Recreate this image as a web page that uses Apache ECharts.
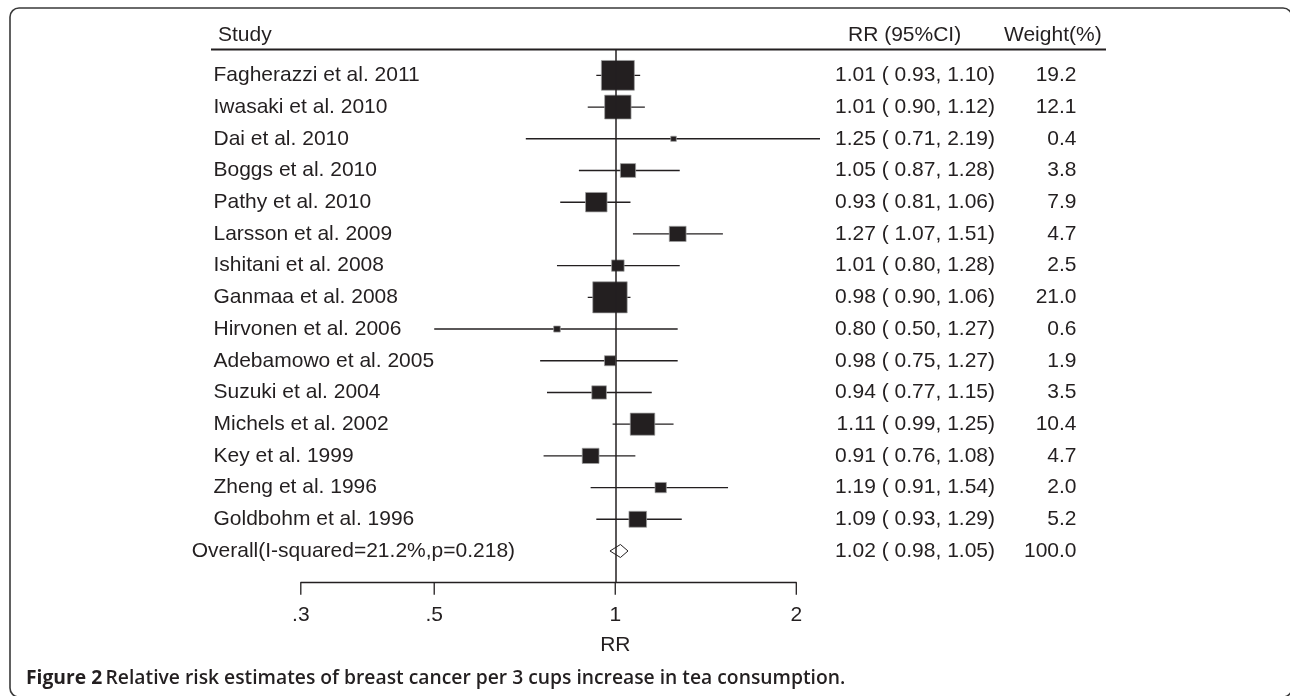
<!DOCTYPE html>
<html><head><meta charset="utf-8">
<script src="https://cdn.jsdelivr.net/npm/echarts@6/dist/echarts.min.js"></script>
<style>html,body{margin:0;padding:0;background:#fff}#chart{width:1290px;height:696px}</style>
</head><body><div id="chart"></div>
<script>
// ---------------- data ----------------
const studies = [
  'Fagherazzi et al. 2011', 'Iwasaki et al. 2010', 'Dai et al. 2010', 'Boggs et al. 2010',
  'Pathy et al. 2010', 'Larsson et al. 2009', 'Ishitani et al. 2008', 'Ganmaa et al. 2008',
  'Hirvonen et al. 2006', 'Adebamowo et al. 2005', 'Suzuki et al. 2004', 'Michels et al. 2002',
  'Key et al. 1999', 'Zheng et al. 1996', 'Goldbohm et al. 1996',
  'Overall(I-squared=21.2%,p=0.218)'
];
const rr     = [1.01, 1.01, 1.25, 1.05, 0.93, 1.27, 1.01, 0.98, 0.80, 0.98, 0.94, 1.11, 0.91, 1.19, 1.09, 1.02];
const lower  = [0.93, 0.90, 0.71, 0.87, 0.81, 1.07, 0.80, 0.90, 0.50, 0.75, 0.77, 0.99, 0.76, 0.91, 0.93, 0.98];
const upper  = [1.10, 1.12, 2.19, 1.28, 1.06, 1.51, 1.28, 1.06, 1.27, 1.27, 1.15, 1.25, 1.08, 1.54, 1.29, 1.05];
const weights = [19.2, 12.1, 0.4, 3.8, 7.9, 4.7, 2.5, 21.0, 0.6, 1.9, 3.5, 10.4, 4.7, 2.0, 5.2, 100.0];
const tickValues = [0.3, 0.5, 1, 2];
const tickLabels = ['.3', '.5', '1', '2'];
const nullValue = 1;
const headers = ['Study', 'RR (95%CI)', 'Weight(%)'];
const axisTitle = 'RR';
const captionBold = 'Figure 2';
const captionText = 'Relative risk estimates of breast cancer per 3 cups increase in tea consumption.';

// ---------------- style / layout ----------------
const INK = '#231f20';
const FONT = '"Liberation Sans", Arial, Helvetica, sans-serif';
const FS = 21;
const Y_MIN = -0.8, Y_MAX = 16;
const lastIdx = studies.length - 1;

const rowData = studies.map((s, i) => [i, rr[i], lower[i], upper[i], weights[i]]);
const tickData = tickValues.map((v, i) => [v, i]);

function txt(x, y, s, align) {
  return { type: 'text', x: x, y: y, silent: true,
    style: { text: s, fill: INK, fontSize: FS, fontFamily: FONT,
      align: align, textAlign: align, verticalAlign: 'middle', textVerticalAlign: 'middle' } };
}
function fmtCI(e, l, h) {
  return e.toFixed(2) + ' ( ' + l.toFixed(2) + ', ' + h.toFixed(2) + ')';
}

function renderRow(params, api) {
  const i = api.value(0);
  const est = api.value(1), lo = api.value(2), hi = api.value(3), w = api.value(4);
  const pE = api.coord([est, i]);
  const pL = api.coord([lo, i]);
  const pH = api.coord([hi, i]);
  const y = pE[1];
  const children = [];
  const isOverall = i === lastIdx;
  if (isOverall) {
    children.push({ type: 'polygon',
      shape: { points: [[pL[0], y], [pE[0], y - 6.5], [pH[0], y], [pE[0], y + 6.5]] },
      style: { fill: 'none', stroke: INK, lineWidth: 1 } });
  } else {
    children.push({ type: 'line', shape: { x1: pL[0], y1: y, x2: pH[0], y2: y },
      style: { stroke: INK, lineWidth: 1.4 } });
    const sw = 7.3 * Math.sqrt(w) + 1, sh = 6.57 * Math.sqrt(w) + 1;
    children.push({ type: 'rect', shape: { x: pE[0] - sw / 2, y: y - sh / 2, width: sw, height: sh },
      style: { fill: INK, stroke: '#a0a0a0', lineWidth: 0.7 } });
  }
  children.push(txt(isOverall ? 191.7 : 213.5, y, studies[params.dataIndex], 'left'));
  children.push(txt(995, y, fmtCI(est, lo, hi), 'right'));
  children.push(txt(1076.5, y, w.toFixed(1), 'right'));
  return { type: 'group', children: children };
}

function renderTick(params, api) {
  const v = api.value(0);
  const p = api.coord([v, Y_MAX]);
  return { type: 'group', children: [
    { type: 'line', shape: { x1: p[0], y1: p[1], x2: p[0], y2: p[1] + 12 },
      style: { stroke: INK, lineWidth: 1.3 } },
    txt(p[0], p[1] + 33, tickLabels[params.dataIndex], 'center')
  ] };
}

const chart = echarts.init(document.getElementById('chart'), null, { renderer: 'canvas' });
chart.setOption({
  animation: false,
  backgroundColor: '#fff',
  grid: { left: 300.8, right: 493.7, top: 50, bottom: 113.3, containLabel: false },
  xAxis: {
    type: 'log', logBase: 10, min: 0.3, max: 2, position: 'bottom',
    axisLine: { show: true, onZero: false, lineStyle: { color: INK, width: 1.3 } },
    axisTick: { show: false }, axisLabel: { show: false }, splitLine: { show: false }
  },
  yAxis: {
    type: 'value', inverse: true, min: Y_MIN, max: Y_MAX, show: false
  },
  series: [
    {
      type: 'custom', name: 'rows', data: rowData, encode: { x: 1, y: 0 },
      renderItem: renderRow, clip: false, silent: true, z: 3,
      markLine: {
        silent: true, symbol: 'none', animation: false,
        label: { show: false },
        lineStyle: { color: INK, width: 1.5, type: 'solid' },
        data: [{ xAxis: nullValue }]
      }
    },
    {
      type: 'custom', name: 'ticks', data: tickData, encode: { x: 0 },
      renderItem: renderTick, clip: false, silent: true
    }
  ],
  graphic: [
    { type: 'rect', silent: true, shape: { x: 10, y: 8, width: 1282, height: 689, r: 9 },
      style: { fill: 'none', stroke: '#3a3a3a', lineWidth: 1.6 } },
    txt(218, 35, headers[0], 'left'),
    txt(848, 35, headers[1], 'left'),
    txt(1004, 35, headers[2], 'left'),
    { type: 'line', silent: true, shape: { x1: 211, y1: 49.5, x2: 1106, y2: 49.5 },
      style: { stroke: INK, lineWidth: 2.2 } },
    txt(615.3, 645, axisTitle, 'center'),
    { type: 'text', x: 26, y: 679, silent: true,
      style: {
        text: '{b|' + captionBold + '} {r|' + captionText + '}',
        verticalAlign: 'middle', textVerticalAlign: 'middle', align: 'left', textAlign: 'left',
        rich: {
          b: { fontFamily: '"Open Sans", "Noto Sans", sans-serif', fontWeight: 700, fontSize: 19.3, fill: INK },
          r: { fontFamily: '"Open Sans", "Noto Sans", sans-serif', fontWeight: 600, fontSize: 19.3, fill: INK }
        }
      } }
  ]
});
</script>
</body></html>
